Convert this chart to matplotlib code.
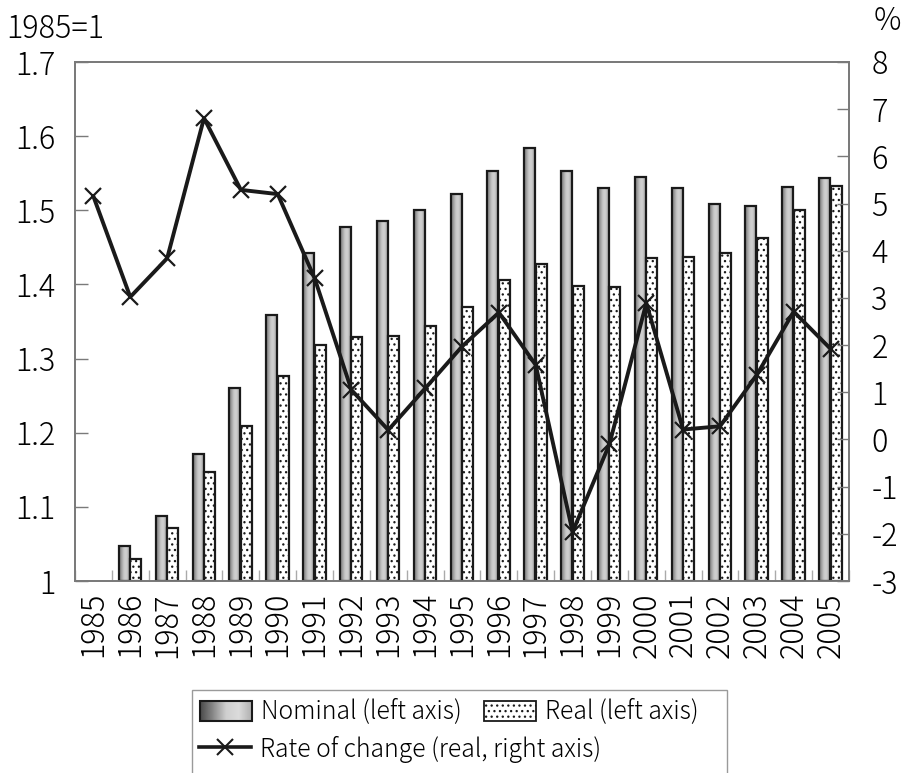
import numpy as np
import matplotlib
matplotlib.use("Agg")
import matplotlib.pyplot as plt
from matplotlib.patches import Rectangle, Patch
from matplotlib.legend_handler import HandlerBase
from matplotlib.image import BboxImage
from matplotlib.transforms import Bbox, TransformedBbox
from matplotlib.colors import LinearSegmentedColormap
from matplotlib.lines import Line2D

plt.rcParams['font.family'] = ['Noto Sans CJK JP', 'DejaVu Sans']
plt.rcParams['font.weight'] = 'light'
plt.rcParams['hatch.linewidth'] = 0.9

# Index values (1985 = 1) and real year-on-year rate of change (%)
years = [str(y) for y in range(1985, 2006)]
nominal = [1.000, 1.047, 1.088, 1.171, 1.260, 1.359, 1.442, 1.478, 1.486, 1.501,
           1.522, 1.553, 1.584, 1.553, 1.530, 1.545, 1.530, 1.509, 1.506, 1.532, 1.543]
real = [1.000, 1.029, 1.071, 1.147, 1.209, 1.277, 1.318, 1.329, 1.331, 1.344,
        1.370, 1.406, 1.427, 1.398, 1.396, 1.435, 1.437, 1.442, 1.463, 1.501, 1.533]
rate = [5.15, 3.02, 3.84, 6.81, 5.29, 5.20, 3.42, 1.05, 0.20, 1.08,
        1.97, 2.69, 1.58, -1.96, -0.10, 2.89, 0.21, 0.28, 1.37, 2.71, 1.92]

left_ticks = [1.0, 1.1, 1.2, 1.3, 1.4, 1.5, 1.6, 1.7]
left_labels = ['1', '1.1', '1.2', '1.3', '1.4', '1.5', '1.6', '1.7']
right_ticks = list(range(-3, 9))

label_nominal = 'Nominal (left axis)'
label_real = 'Real (left axis)'
label_rate = 'Rate of change (real, right axis)'

INK = '#1a1a1a'
AXIS = '#7a7a7a'
FS = 22
LFS = 17.8
W, H = 901, 773

cyl = LinearSegmentedColormap.from_list(
    'cyl', ['#7a7a7a', '#9c9c9c', '#c8c8c8', '#d2d2d2', '#b4b4b4', '#888888'])
legend_grad = LinearSegmentedColormap.from_list(
    'lg', ['#4a4a4a', '#8a8a8a', '#cfcfcf', '#dcdcdc', '#b0b0b0'])

fig = plt.figure(figsize=(W / 100, H / 100), dpi=100)
ax = fig.add_axes([75 / W, 1 - 581 / H, 774 / W, 519 / H])
ax2 = ax.twinx()

x = np.arange(len(years))
w = 0.3
base = 1.0
nom_h = np.array(nominal) - base
real_h = np.array(real) - base

nom_bars = ax.bar(x - 0.16, nom_h, bottom=base, width=w,
                  facecolor='none', edgecolor=INK, linewidth=1.6, zorder=3)
real_bars = ax.bar(x + 0.15, real_h, bottom=base, width=w,
                   facecolor='white', edgecolor=INK, hatch='...', linewidth=1.6, zorder=3)
grad = np.linspace(0, 1, 64).reshape(1, -1)
for p in nom_bars:
    if p.get_height() <= 0:
        p.set_linewidth(0)
        continue
    x0, y0 = p.get_x(), p.get_y()
    ax.imshow(grad, cmap=cyl, aspect='auto', interpolation='bicubic',
              extent=(x0, x0 + p.get_width(), y0, y0 + p.get_height()), zorder=2)
for p in real_bars:
    if p.get_height() <= 0:
        p.set_visible(False)

ax2.plot(x, rate, color=INK, linewidth=2.8, marker='x', markersize=12,
         markeredgewidth=1.6, zorder=5)

ax.set_xlim(-0.5, len(years) - 0.5)
ax.set_ylim(1.0, 1.7)
ax2.set_ylim(-3, 8)

ax.set_yticks(left_ticks)
ax.set_yticklabels(left_labels)
ax2.set_yticks(right_ticks)
ax2.set_yticklabels([str(t) for t in right_ticks])

ax.set_xticks(x)
ax.set_xticklabels(years, rotation=90)
ax.set_xticks(np.arange(len(years) + 1) - 0.5, minor=True)

ax.tick_params(axis='x', which='major', length=0, labelsize=FS, pad=8)
ax.tick_params(axis='x', which='minor', direction='in', length=8, color='#aaaaaa', width=1)
ax.tick_params(axis='y', direction='in', length=9, color=AXIS, width=1, labelsize=FS, pad=14)
ax2.tick_params(axis='y', direction='in', length=9, color=AXIS, width=1, labelsize=FS, pad=16)

for a in (ax, ax2):
    for s in a.spines.values():
        s.set_color(AXIS)
        s.set_linewidth(1.3)

fig.text(6 / W, 1 - 13 / H, '1985=1', fontsize=FS, va='top', ha='left')
fig.text(874 / W, 1 - 5 / H, '%', fontsize=FS, va='top', ha='left')


class GradientSwatch:
    pass


class GradientHandler(HandlerBase):
    def create_artists(self, legend, orig_handle, xdescent, ydescent,
                       width, height, fontsize, trans):
        x0 = -xdescent
        y0 = -ydescent
        bb = TransformedBbox(Bbox.from_bounds(x0, y0, width, height), trans)
        img = BboxImage(bb, cmap=legend_grad, interpolation='bicubic')
        img.set_data(grad)
        rect = Rectangle((x0, y0), width, height, facecolor='none', edgecolor=INK,
                         linewidth=1.5, transform=trans)
        return [img, rect]


h_nom = GradientSwatch()
h_real = Patch(facecolor='white', edgecolor=INK, hatch='...', linewidth=1.3)
h_rate = Line2D([], [], color=INK, linewidth=2.6, marker='x', markersize=11,
                markeredgewidth=1.5)

# Legend frame, then each entry placed on its own row/column slot
fig.patches.append(Rectangle((192 / W, -0.01), (727 - 192) / W, 0.01 + (773 - 690) / H,
                             transform=fig.transFigure, facecolor='white',
                             edgecolor='#9a9a9a', linewidth=1.0, zorder=0))
entries = [
    (h_nom, label_nominal, 200, 712),
    (h_real, label_real, 484, 712),
    (h_rate, label_rate, 199, 749),
]
for handle, label, px, py in entries:
    fig.legend([handle], [label], handler_map={GradientSwatch: GradientHandler()},
               loc='center left', bbox_to_anchor=(px / W, 1 - py / H),
               fontsize=LFS, frameon=False, handlelength=2.1, handleheight=0.85,
               handletextpad=0.36, borderpad=0, borderaxespad=0)

fig.savefig('out.png', dpi=100)
